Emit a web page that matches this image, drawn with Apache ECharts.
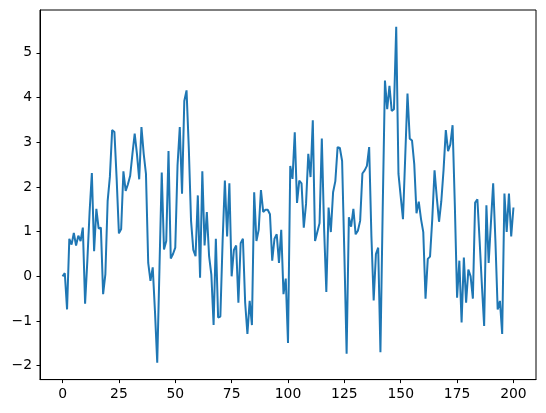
<!DOCTYPE html>
<html>
<head>
<meta charset="utf-8">
<script src="https://cdn.jsdelivr.net/npm/echarts@6/dist/echarts.min.js"></script>
<style>
  html, body { margin: 0; padding: 0; background: #fff; }
  #chart { width: 546px; height: 413px; }
</style>
</head>
<body>
<div id="chart"></div>
<script>
  // values, one per step 0..200
  const yValues = [
    0.0, 0.07, -0.74, 0.84, 0.71, 0.97, 0.69, 0.91, 0.79, 1.09,
    -0.61, 0.35, 1.44, 2.31, 0.56, 1.51, 1.07, 1.09, -0.4, 0.05,
    1.68, 2.23, 3.27, 3.23, 2.18, 0.96, 1.06, 2.35, 1.91, 2.06,
    2.25, 2.74, 3.19, 2.74, 2.17, 3.34, 2.74, 2.29, 0.3, -0.1,
    0.2, -0.79, -1.93, 0.2, 2.32, 0.6, 0.79, 2.8, 0.4, 0.5,
    0.64, 2.48, 3.34, 1.85, 3.92, 4.16, 2.87, 1.24, 0.59, 0.45,
    1.81, -0.03, 2.35, 0.69, 1.44, 0.45, 0.04, -1.09, 0.84, -0.92,
    -0.9, 0.79, 2.14, 0.89, 2.08, 0.0, 0.59, 0.69, -0.59, 0.74,
    0.84, -0.59, -1.29, -0.55, -1.09, 1.88, 0.79, 1.04, 1.93, 1.44,
    1.49, 1.49, 1.39, 0.35, 0.84, 0.94, 0.3, 1.04, -0.4, -0.05,
    -1.49, 2.47, 2.18, 3.22, 1.64, 2.14, 2.08, 1.09, 1.62, 2.74,
    2.22, 3.49, 0.79, 0.99, 1.19, 3.08, 1.09, -0.35, 1.54, 0.99,
    1.88, 2.13, 2.89, 2.87, 2.58, 0.5, -1.73, 1.32, 1.11, 1.51,
    0.94, 1.02, 1.24, 2.3, 2.37, 2.47, 2.89, 0.89, -0.54, 0.5,
    0.64, -1.7, 1.49, 4.38, 3.74, 4.26, 3.7, 3.74, 5.58, 2.29,
    1.78, 1.28, 2.68, 4.09, 3.08, 3.04, 2.51, 1.41, 1.67, 1.28,
    0.99, -0.5, 0.39, 0.44, 1.29, 2.37, 1.76, 1.22, 1.68, 2.38,
    3.27, 2.8, 2.95, 3.38, 1.59, -0.48, 0.35, -1.03, 0.42, -0.59,
    0.15, 0.0, -0.5, 1.65, 1.72, 0.79, -0.2, -1.11, 1.59, 0.3,
    1.19, 2.08, 0.79, -0.74, -0.55, -1.29, 1.85, 0.99, 1.85, 0.89,
    1.54
  ]
  const xTicks = [0, 25, 50, 75, 100, 125, 150, 175, 200]
  const yTicks = [-2, -1, 0, 1, 2, 3, 4, 5]

  const chart = echarts.init(document.getElementById('chart'))
  const points = yValues.map((v, i) => [i, v])
  const fmt = v => String(v).replace('-', '\u2212')
  const labelStyle = {color: '#000', fontFamily: 'DejaVu Sans', fontSize: 13.9}

  const option = {
    animation: false,
    grid: {left: 40, right: 10, top: 10, bottom: 33.4, show: true, borderColor: '#000', borderWidth: 1},
    xAxis: {
      type: 'value',
      min: -10,
      max: 210,
      splitLine: {show: false},
      axisLine: {show: true, onZero: false, lineStyle: {color: '#000', width: 1}},
      axisTick: {show: true, length: 3.5, customValues: xTicks, lineStyle: {color: '#000'}},
      axisLabel: Object.assign({margin: 8, customValues: xTicks, formatter: fmt}, labelStyle)
    },
    yAxis: {
      type: 'value',
      min: -2.31,
      max: 5.957,
      splitLine: {show: false},
      axisLine: {show: true, onZero: false, lineStyle: {color: '#000', width: 1}},
      axisTick: {show: true, length: 3.5, customValues: yTicks, lineStyle: {color: '#000'}},
      axisLabel: Object.assign({margin: 8, customValues: yTicks, formatter: fmt}, labelStyle)
    },
    series: [{
      type: 'line',
      data: points,
      showSymbol: false,
      lineStyle: {color: '#1f77b4', width: 2},
      itemStyle: {color: '#1f77b4'}
    }]
  }
  chart.setOption(option)
</script>
</body>
</html>
